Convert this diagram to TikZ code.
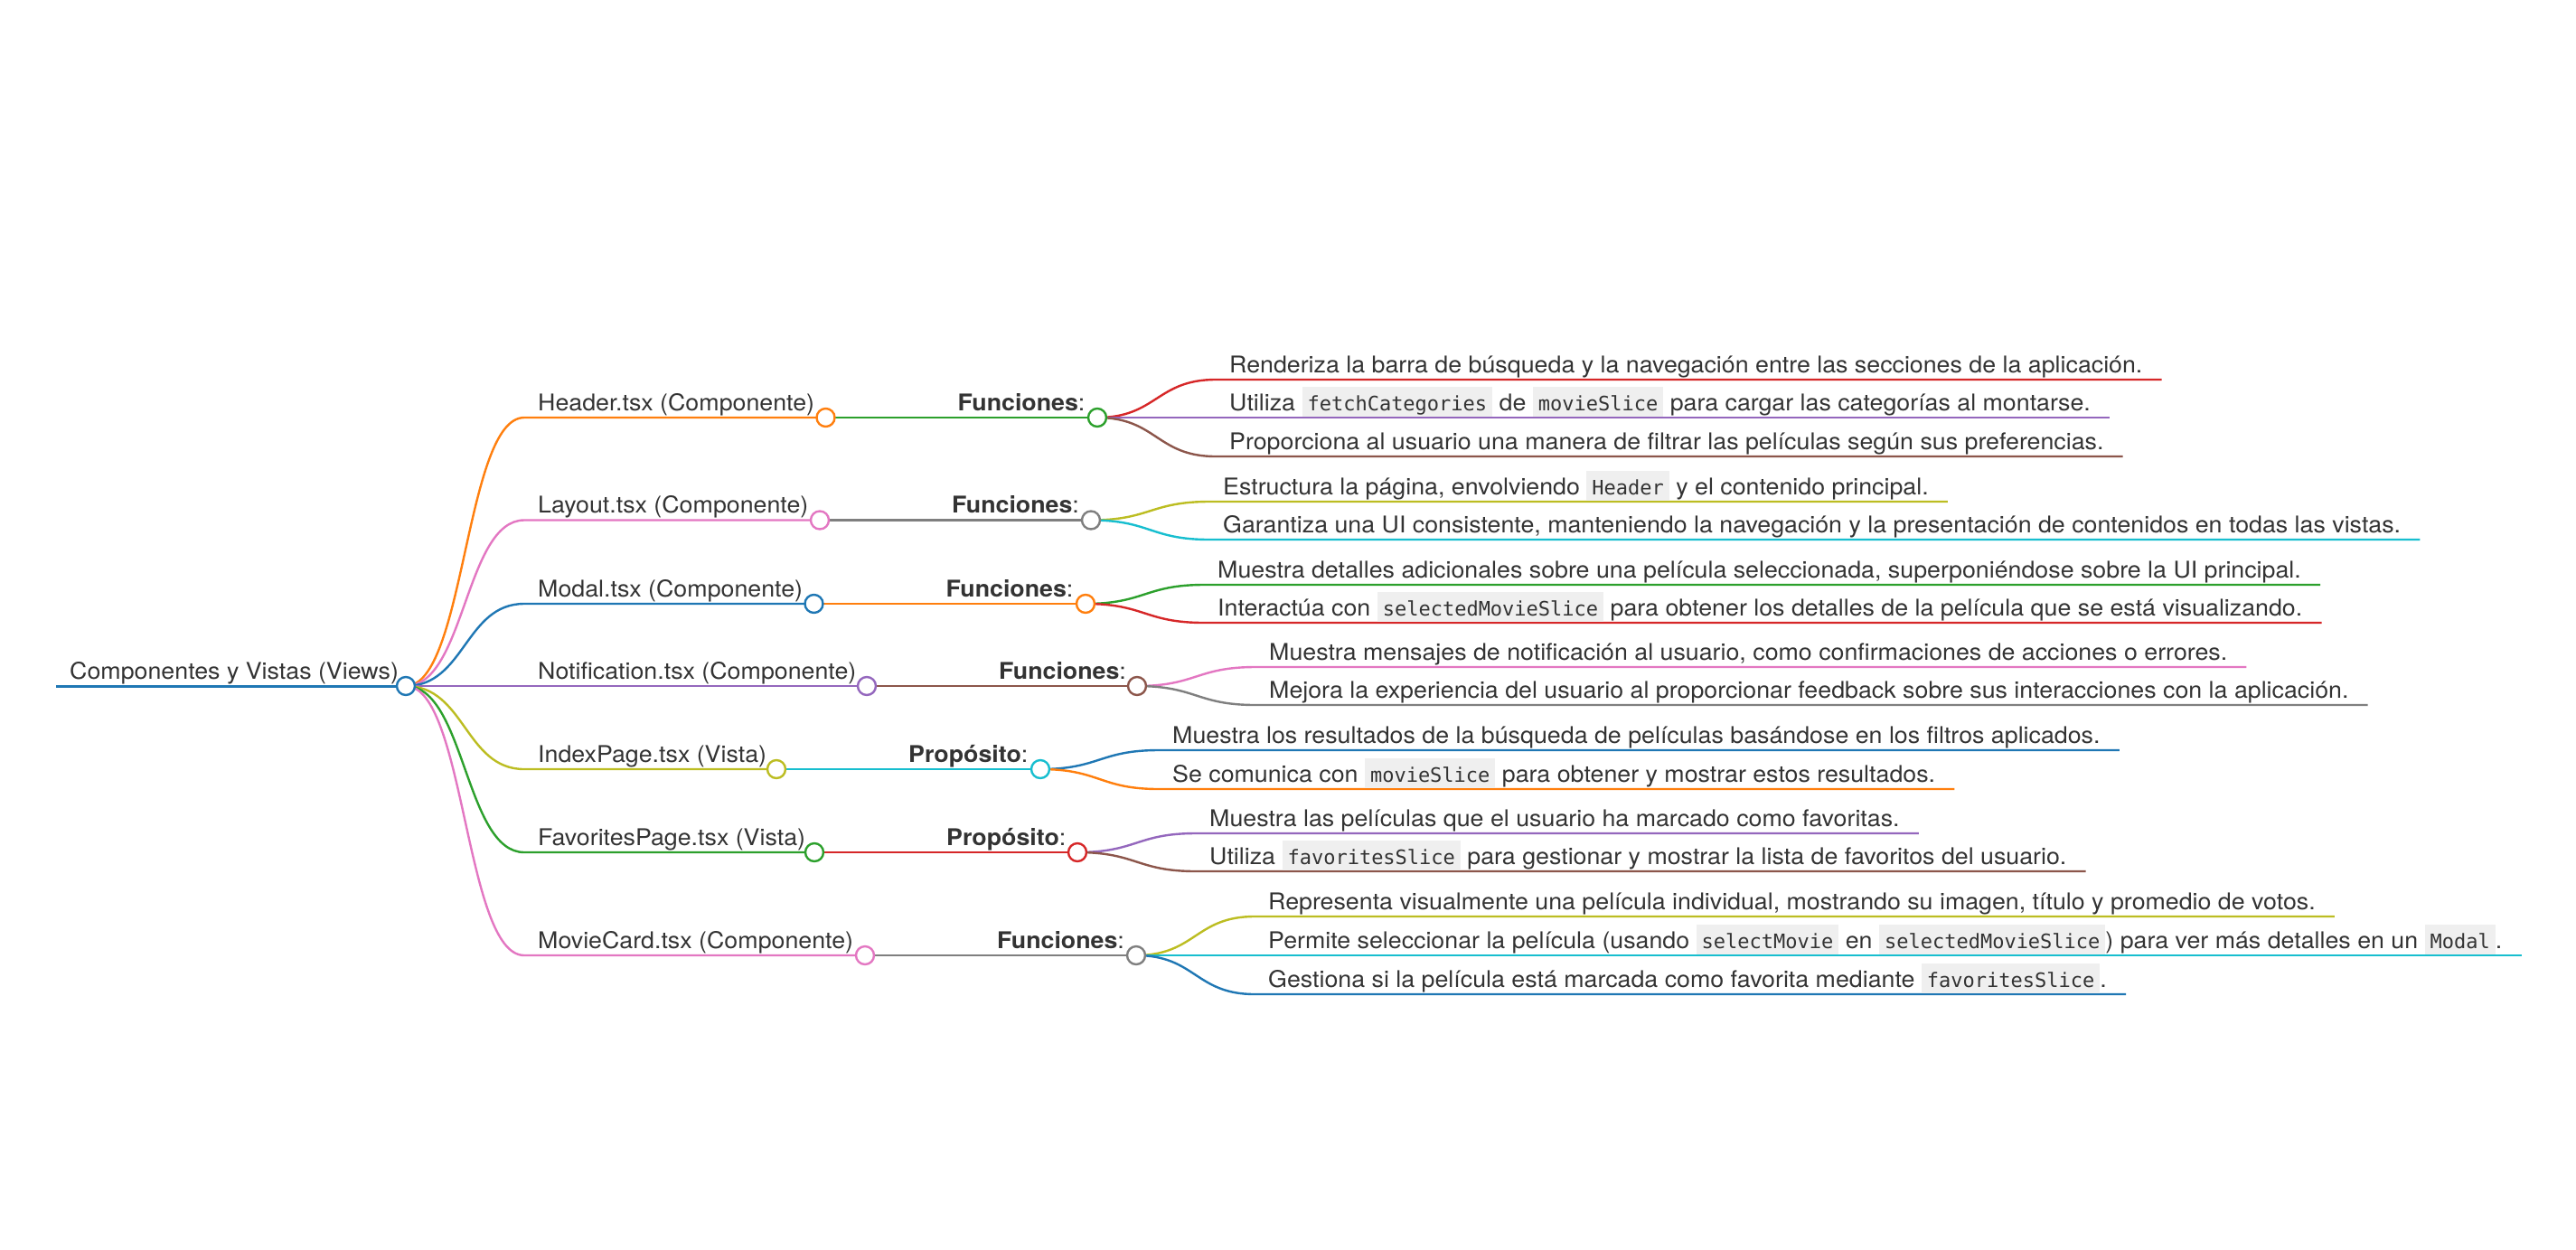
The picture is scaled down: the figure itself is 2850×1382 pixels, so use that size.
\documentclass[tikz,border=0pt]{standalone}
\usepackage{fontspec}
\setmainfont{TeX Gyre Heros}[FakeStretch=1.05]
\newfontfamily\codefont{DejaVu Sans Mono}
\usetikzlibrary{calc,backgrounds}
\definecolor{cBlue}{HTML}{1F77B4}
\definecolor{cOrange}{HTML}{FF7F0E}
\definecolor{cGreen}{HTML}{2CA02C}
\definecolor{cRed}{HTML}{D62728}
\definecolor{cPurple}{HTML}{9467BD}
\definecolor{cBrown}{HTML}{8C564B}
\definecolor{cPink}{HTML}{E377C2}
\definecolor{cGray}{HTML}{7F7F7F}
\definecolor{cOlive}{HTML}{BCBD22}
\definecolor{cCyan}{HTML}{17BECF}
\definecolor{txt}{HTML}{333333}
\definecolor{codebg}{HTML}{EFEFEF}
\newcommand\cd[1]{{\setlength{\fboxsep}{0pt}\colorbox{codebg}{\hspace{6pt}\vrule width 0pt height 26pt depth 7pt{\codefont\fontsize{22}{26}\selectfont #1}\hspace{6pt}}}}
\tikzset{
  lbl/.style={anchor=base west, inner sep=0pt, text=txt, font=\fontsize{25.5}{30}\selectfont},
  knob/.style={circle, draw=#1, fill=white, line width=2.4pt, minimum size=20pt, inner sep=0pt},
  lnk/.style={draw=#1, line width=2.4pt},
}
% #1 name, #2 parent, #3 colour, #4 x0, #5 y, #6 circle x, #7 text
\newcommand\mmnode[7]{%
  \node[lbl] (t#1) at (#4+15,#5-8) {#7};
  \node[knob=#3] (c#1) at (#6,#5) {};
  \coordinate (s#1) at (#4,#5);
  \begin{scope}[on background layer]
    \draw[lnk=#3] (#2.center) .. controls +(65.5,0) and +(-65.5,0) .. (s#1) -- (c#1.center);
  \end{scope}}
% #1 name, #2 parent, #3 colour, #4 x0, #5 y, #6 text
\newcommand\mmleaf[6]{%
  \node[lbl] (t#1) at (#4+15,#5-8) {#6};
  \coordinate (s#1) at (#4,#5);
  \begin{scope}[on background layer]
    \draw[lnk=#3] (#2.center) .. controls +(65.5,0) and +(-65.5,0) .. (s#1) -- ($(s#1 -| t#1.east)+(21,0)$);
  \end{scope}}
\begin{document}
\begin{tikzpicture}[x=1pt,y=-1pt]
\useasboundingbox (0,0) rectangle (2850,1382);
% root
\node[lbl] (troot) at (77,751) {Componentes y Vistas (Views)};
\node[knob=cBlue] (croot) at (449,759) {};
\coordinate (sroot) at (62,759);
\begin{scope}[on background layer]
  \draw[lnk=cBlue, line width=3pt] (sroot) -- (croot.center);
\end{scope}
% level 1
\mmnode{H}{croot}{cOrange}{580}{462}{913.5}{Header.tsx (Componente)}
\mmnode{L}{croot}{cPink}{580}{575.5}{907}{Layout.tsx (Componente)}
\mmnode{M}{croot}{cBlue}{580}{668}{900.5}{Modal.tsx (Componente)}
\mmnode{N}{croot}{cPurple}{580}{759}{959}{Notification.tsx (Componente)}
\mmnode{I}{croot}{cOlive}{580}{851}{859}{IndexPage.tsx (Vista)}
\mmnode{F}{croot}{cGreen}{580}{943}{901}{FavoritesPage.tsx (Vista)}
\mmnode{C}{croot}{cPink}{580}{1057}{957}{MovieCard.tsx (Componente)}
% level 2
\mmnode{Hf}{cH}{cGreen}{1044.5}{462}{1214}{\textbf{Funciones}:}
\mmnode{Lf}{cL}{cGray}{1038}{575.5}{1207}{\textbf{Funciones}:}
\mmnode{Mf}{cM}{cOrange}{1031.5}{668}{1201}{\textbf{Funciones}:}
\mmnode{Nf}{cN}{cBrown}{1090}{759}{1258}{\textbf{Funciones}:}
\mmnode{If}{cI}{cCyan}{990}{851}{1151}{\textbf{Propósito}:}
\mmnode{Ff}{cF}{cRed}{1032}{943}{1192}{\textbf{Propósito}:}
\mmnode{Cf}{cC}{cGray}{1088}{1057}{1257}{\textbf{Funciones}:}
% level 3
\mmleaf{H1}{cHf}{cRed}{1345}{420}{Renderiza la barra de búsqueda y la navegación entre las secciones de la aplicación.}
\mmleaf{H2}{cHf}{cPurple}{1345}{462}{Utiliza \cd{fetchCategories} de \cd{movieSlice} para cargar las categorías al montarse.}
\mmleaf{H3}{cHf}{cBrown}{1345}{505}{Proporciona al usuario una manera de filtrar las películas según sus preferencias.}
\mmleaf{L1}{cLf}{cOlive}{1338}{555}{Estructura la página, envolviendo \cd{Header} y el contenido principal.}
\mmleaf{L2}{cLf}{cCyan}{1338}{597}{Garantiza una UI consistente, manteniendo la navegación y la presentación de contenidos en todas las vistas.}
\mmleaf{M1}{cMf}{cGreen}{1332}{647}{Muestra detalles adicionales sobre una película seleccionada, superponiéndose sobre la UI principal.}
\mmleaf{M2}{cMf}{cRed}{1332}{689}{Interactúa con \cd{selectedMovieSlice} para obtener los detalles de la película que se está visualizando.}
\mmleaf{N1}{cNf}{cPink}{1389}{738}{Muestra mensajes de notificación al usuario, como confirmaciones de acciones o errores.}
\mmleaf{N2}{cNf}{cGray}{1389}{780}{Mejora la experiencia del usuario al proporcionar feedback sobre sus interacciones con la aplicación.}
\mmleaf{I1}{cIf}{cBlue}{1282}{830}{Muestra los resultados de la búsqueda de películas basándose en los filtros aplicados.}
\mmleaf{I2}{cIf}{cOrange}{1282}{873}{Se comunica con \cd{movieSlice} para obtener y mostrar estos resultados.}
\mmleaf{F1}{cFf}{cPurple}{1323}{922}{Muestra las películas que el usuario ha marcado como favoritas.}
\mmleaf{F2}{cFf}{cBrown}{1323}{964}{Utiliza \cd{favoritesSlice} para gestionar y mostrar la lista de favoritos del usuario.}
\mmleaf{C1}{cCf}{cOlive}{1388}{1014}{Representa visualmente una película individual, mostrando su imagen, título y promedio de votos.}
\mmleaf{C2}{cCf}{cCyan}{1388}{1057}{Permite seleccionar la película (usando \cd{selectMovie} en \cd{selectedMovieSlice}) para ver más detalles en un \cd{Modal}.}
\mmleaf{C3}{cCf}{cBlue}{1388}{1100}{Gestiona si la película está marcada como favorita mediante \cd{favoritesSlice}.}
\end{tikzpicture}
\end{document}
